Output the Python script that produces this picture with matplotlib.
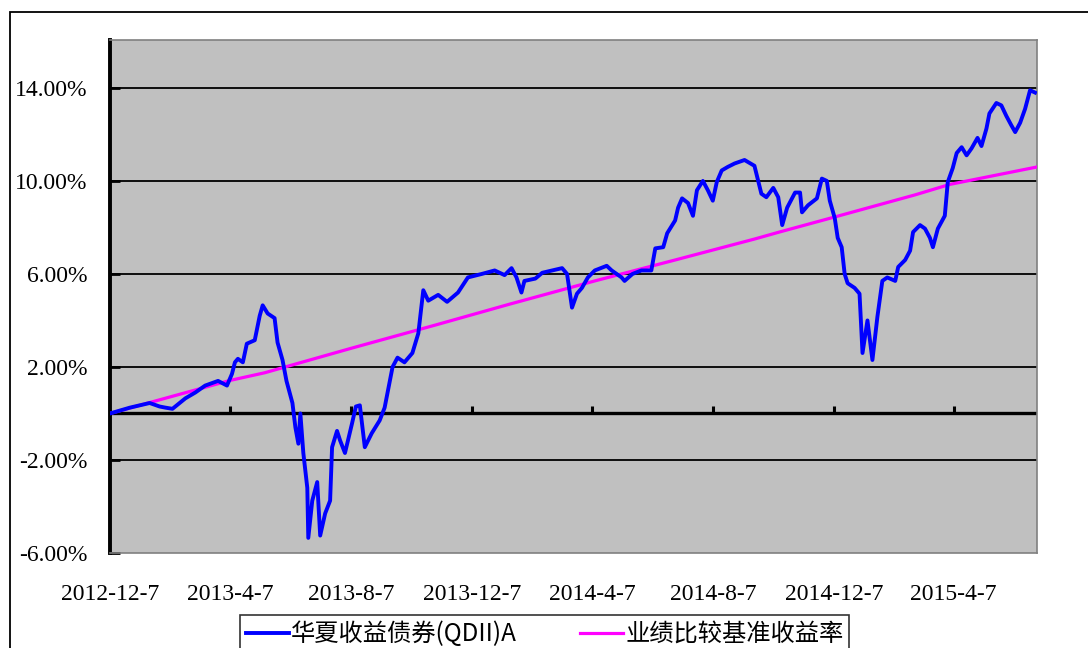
import datetime as dt
import matplotlib
matplotlib.use('Agg')
import matplotlib.pyplot as plt
from matplotlib.patches import Rectangle

# fund cumulative return (%) vs days after 2012-12-7
fund_days = [0, 20, 40, 50, 56, 63, 76, 86, 96, 109, 118, 123, 126, 129, 134, 138, 146,
             151, 154, 159, 166, 169, 174, 178, 184, 187, 190, 192, 195, 199, 200, 204,
             209, 212, 217, 222, 224, 229, 232, 237, 244, 248, 252, 257, 264, 272, 277,
             285, 290, 297, 305, 311, 316, 321, 331, 340, 351, 361, 375, 388, 398, 405,
             410, 415, 418, 429, 436, 446, 456, 461, 466, 471, 476, 482, 489, 501, 506,
             516, 519, 527, 536, 546, 550, 558, 562, 570, 573, 577, 583, 588, 592, 598,
             603, 608, 612, 617, 623, 630, 640, 650, 657, 662, 669, 674, 678, 683, 691,
             696, 698, 704, 713, 718, 723, 726, 731, 734, 738, 741, 744, 751, 756, 759,
             764, 769, 774, 779, 784, 792, 795, 802, 807, 810, 817, 822, 827, 830, 835,
             842, 845, 850, 854, 859, 864, 869, 875, 879, 884, 887, 894, 899, 904, 909,
             913, 918, 923, 928, 933]
fund_ret = [0.0, 0.25, 0.45, 0.3, 0.25, 0.2, 0.65, 0.9, 1.2, 1.4, 1.2, 1.7, 2.2, 2.35, 2.2,
            3.0, 3.15, 4.2, 4.65, 4.3, 4.1, 3.05, 2.3, 1.4, 0.45, -0.6, -1.3, 0.0, -1.7,
            -3.2, -5.35, -3.75, -2.95, -5.25, -4.3, -3.75, -1.45, -0.75, -1.15, -1.7,
            -0.45, 0.3, 0.35, -1.45, -0.85, -0.3, 0.25, 2.0, 2.4, 2.2, 2.6, 3.45, 5.3,
            4.85, 5.1, 4.8, 5.2, 5.85, 6.0, 6.15, 5.95, 6.25, 5.85, 5.2, 5.7, 5.8, 6.05,
            6.15, 6.25, 6.0, 4.55, 5.15, 5.4, 5.85, 6.15, 6.35, 6.15, 5.85, 5.7, 6.0,
            6.15, 6.15, 7.1, 7.15, 7.75, 8.3, 8.85, 9.25, 9.05, 8.5, 9.6, 10.0, 9.6,
            9.15, 9.95, 10.45, 10.6, 10.75, 10.9, 10.65, 9.45, 9.3, 9.7, 9.3, 8.1, 8.85,
            9.5, 9.5, 8.65, 8.95, 9.25, 10.1, 10.0, 9.15, 8.4, 7.55, 7.15, 6.0, 5.6,
            5.4, 5.15, 2.6, 4.0, 2.3, 4.15, 5.7, 5.85, 5.7, 6.3, 6.6, 7.0, 7.8, 8.1,
            7.95, 7.55, 7.15, 7.95, 8.5, 9.95, 10.55, 11.2, 11.45, 11.1, 11.4, 11.85,
            11.5, 12.25, 12.9, 13.35, 13.25, 12.8, 12.4, 12.1, 12.5, 13.1, 13.9, 13.8]

bench_days = [0, 121, 156, 243, 328, 403, 489, 570, 650, 675, 731, 812, 847, 935]
bench_ret = [0.0, 1.42, 1.75, 2.8, 3.8, 4.7, 5.7, 6.6, 7.5, 7.8, 8.45, 9.4, 9.85, 10.6]

tick_labels = ['2012-12-7', '2013-4-7', '2013-8-7', '2013-12-7',
               '2014-4-7', '2014-8-7', '2014-12-7', '2015-4-7']
y_ticks = [-6, -2, 2, 6, 10, 14]

start = dt.datetime(2012, 12, 7)
end = dt.datetime(2015, 6, 30)


def to_dates(days):
    return [start + dt.timedelta(days=int(d)) for d in days]


fig = plt.figure(figsize=(10.88, 6.48), dpi=100)

# outer frame of the picture
fig.patches.append(Rectangle((10 / 1088, -0.1), 1.2, 1.1 - 12 / 648,
                             transform=fig.transFigure, fill=False,
                             edgecolor='black', linewidth=1.3))

ax = fig.add_axes([110 / 1088, 95 / 648, 927 / 1088, 513 / 648])
ax.set_facecolor('#c0c0c0')

for v in y_ticks[1:]:
    ax.axhline(v, color='black', linewidth=1.3, zorder=1)
ax.axhline(0, color='black', linewidth=2.4, zorder=1)

tick_dates = [dt.datetime.strptime(s, '%Y-%m-%d') for s in tick_labels]
ax.vlines(tick_dates[1:], 0, 0.3, color='black', linewidth=2.2, zorder=1)

ax.plot(to_dates(bench_days), bench_ret, color='#ff00ff', linewidth=2.3,
        label='业绩比较基准收益率', zorder=3)
ax.plot(to_dates(fund_days), fund_ret, color='#0000ff', linewidth=2.8,
        label='华夏收益债券(QDII)A', zorder=4)

ax.set_xlim(start, end)
ax.set_ylim(-6, 16.06)

ax.set_yticks(y_ticks)
ax.set_yticklabels(['%.2f%%' % v for v in y_ticks], family='Liberation Serif',
                   fontsize=17)
ax.tick_params(axis='y', direction='in', length=7, width=2, pad=16)

ax.set_xticks(tick_dates)
ax.set_xticklabels(tick_labels, family='Liberation Serif', fontsize=17)
ax.tick_params(axis='x', length=0, pad=22)

ax.spines['left'].set_linewidth(2.8)
ax.spines['left'].set_color('black')
for side in ['top', 'right', 'bottom']:
    ax.spines[side].set_color('#808080')
    ax.spines[side].set_linewidth(1.2)

handles, labels = ax.get_legend_handles_labels()
leg = fig.legend(handles[::-1], labels[::-1], loc='upper left',
                 bbox_to_anchor=(240 / 1088, 1 - 615 / 648), ncol=2,
                 prop={'family': ['Noto Sans CJK SC', 'DejaVu Sans'], 'size': 17.5},
                 frameon=True, fancybox=False, shadow=False, borderpad=0.25,
                 handlelength=1.75, handletextpad=0.1, columnspacing=2.6,
                 borderaxespad=0)
leg.get_frame().set_edgecolor('black')
leg.get_frame().set_linewidth(1.2)

fig.savefig('out.png', dpi=100)
